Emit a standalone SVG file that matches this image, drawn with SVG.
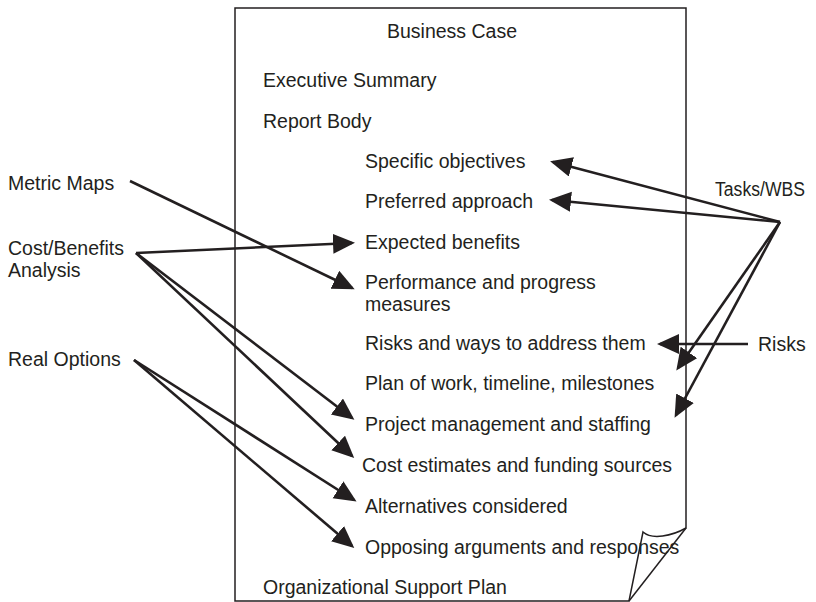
<svg xmlns="http://www.w3.org/2000/svg" width="816" height="602" viewBox="0 0 816 602">
<style>
text{font-family:"Liberation Sans",Arial,sans-serif;font-size:19.5px;fill:#231f20}
.page{fill:#fff;stroke:#231f20;stroke-width:1.5;stroke-linejoin:miter}
.c{stroke:#231f20;stroke-width:2.6;fill:none;marker-end:url(#ah)}
</style>
<defs>
<marker id="ah" markerUnits="userSpaceOnUse" markerWidth="24" markerHeight="22" refX="19" refY="10" orient="auto">
<path d="M0,0 L22,10 L0,20 Z" fill="#231f20"/>
</marker>
</defs>
<rect width="816" height="602" fill="#fff"/>
<g id="page">
<path class="page" d="M235,8 H686 V528 C672,536 652,540 643,532 L629,601 H235 Z"/>
<path class="page" d="M686,528 L629,601"/>
<text x="452" y="38" text-anchor="middle">Business Case</text>
</g>
<g id="n-exec"><text x="263" y="87">Executive Summary</text></g>
<g id="n-body"><text x="263" y="128">Report Body</text></g>
<g id="n-spec"><text x="365" y="168">Specific objectives</text></g>
<g id="n-pref"><text x="365" y="208">Preferred approach</text></g>
<g id="n-exp"><text x="365" y="249">Expected benefits</text></g>
<g id="n-perf"><text x="365" y="289">Performance and progress</text><text x="365" y="311">measures</text></g>
<g id="n-risk"><text x="365" y="350">Risks and ways to address them</text></g>
<g id="n-plan"><text x="365" y="390">Plan of work, timeline, milestones</text></g>
<g id="n-pm"><text x="365" y="431">Project management and staffing</text></g>
<g id="n-cost"><text x="362" y="472">Cost estimates and funding sources</text></g>
<g id="n-alt"><text x="365" y="513">Alternatives considered</text></g>
<g id="n-opp"><text x="365" y="554">Opposing arguments and responses</text></g>
<g id="n-org"><text x="263" y="594">Organizational Support Plan</text></g>
<g id="s-metric"><text x="8" y="190">Metric Maps</text></g>
<g id="s-cba"><text x="8" y="255">Cost/Benefits</text><text x="8" y="277">Analysis</text></g>
<g id="s-real"><text x="8" y="366">Real Options</text></g>
<g id="s-tasks"><text x="715" y="196" textLength="90" lengthAdjust="spacingAndGlyphs">Tasks/WBS</text></g>
<g id="s-risks"><text x="758" y="351">Risks</text></g>
<g id="connectors">
<line class="c" x1="130" y1="181" x2="352" y2="288"/>
<line class="c" x1="136" y1="253" x2="352" y2="243"/>
<line class="c" x1="136" y1="253" x2="352" y2="418"/>
<line class="c" x1="136" y1="253" x2="352" y2="456"/>
<line class="c" x1="134" y1="360" x2="354" y2="500"/>
<line class="c" x1="134" y1="360" x2="352" y2="546"/>
<line class="c" x1="780" y1="222" x2="553" y2="162"/>
<line class="c" x1="780" y1="222" x2="552" y2="200"/>
<line class="c" x1="780" y1="222" x2="678" y2="368"/>
<line class="c" x1="780" y1="222" x2="676" y2="415"/>
<line class="c" x1="748" y1="344" x2="660" y2="344"/>
</g>
</svg>
